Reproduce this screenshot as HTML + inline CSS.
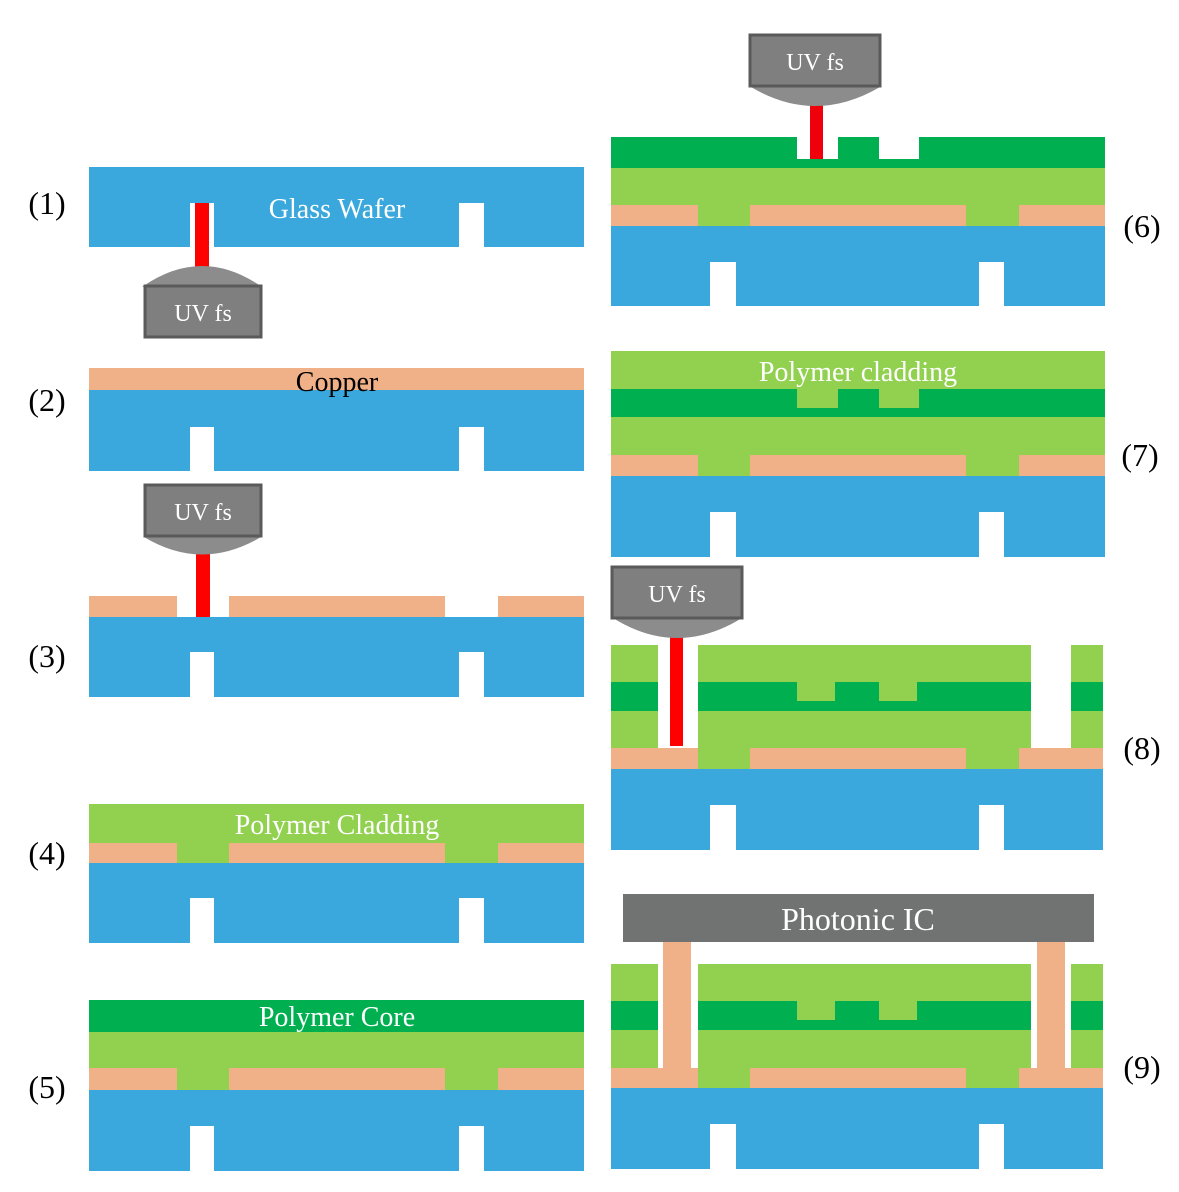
<!DOCTYPE html>
<html><head><meta charset="utf-8"><style>
html,body{margin:0;padding:0;background:#fff}
svg{display:block}
text{font-family:"Liberation Serif",serif}
</style></head><body>
<svg width="1179" height="1192" viewBox="0 0 1179 1192">
<defs>
<g id="dummy"></g>
</defs>
<g fill="#000" font-size="32">
<text x="47" y="214" text-anchor="middle">(1)</text>
<text x="47" y="411" text-anchor="middle">(2)</text>
<text x="47" y="667" text-anchor="middle">(3)</text>
<text x="47" y="864" text-anchor="middle">(4)</text>
<text x="47" y="1098" text-anchor="middle">(5)</text>
<text x="1142" y="237" text-anchor="middle">(6)</text>
<text x="1140" y="466" text-anchor="middle">(7)</text>
<text x="1142" y="759" text-anchor="middle">(8)</text>
<text x="1142" y="1078" text-anchor="middle">(9)</text>
</g>

<!-- Step 1 -->
<g>
<rect x="89" y="167" width="495" height="80" fill="#3aa8dc"/>
<rect x="459" y="203" width="25" height="44" fill="#fff"/>
<rect x="190" y="203" width="24" height="44" fill="#fff"/>
<rect x="195" y="203" width="14" height="66" fill="#f00"/>
<path d="M142 287 Q202 245 262 287 Z" fill="#8c8c8c"/>
<rect x="145" y="286" width="116" height="51" fill="#7f7f7f" stroke="#5a5a5a" stroke-width="3"/>
<text x="203" y="321" fill="#fff" font-size="24" text-anchor="middle">UV fs</text>
<text x="337" y="218" fill="#fff" font-size="28" text-anchor="middle">Glass Wafer</text>
</g>

<!-- Step 2 -->
<g>
<rect x="89" y="368" width="495" height="22" fill="#f0b088"/>
<rect x="89" y="390" width="495" height="81" fill="#3aa8dc"/>
<rect x="190" y="427" width="24" height="44" fill="#fff"/>
<rect x="459" y="427" width="25" height="44" fill="#fff"/>
<text x="337" y="391" fill="#000" font-size="28" text-anchor="middle">Copper</text>
</g>

<!-- Step 3 -->
<g>
<rect x="89" y="596" width="88" height="21" fill="#f0b088"/>
<rect x="229" y="596" width="216" height="21" fill="#f0b088"/>
<rect x="498" y="596" width="86" height="21" fill="#f0b088"/>
<rect x="89" y="617" width="495" height="80" fill="#3aa8dc"/>
<rect x="190" y="652" width="24" height="45" fill="#fff"/>
<rect x="459" y="652" width="25" height="45" fill="#fff"/>
<rect x="196" y="548" width="14" height="69" fill="#f00"/>
<path d="M144 537 Q202 572 261 537 Z" fill="#8c8c8c"/>
<rect x="145" y="485" width="116" height="51" fill="#7f7f7f" stroke="#5a5a5a" stroke-width="3"/>
<text x="203" y="520" fill="#fff" font-size="24" text-anchor="middle">UV fs</text>
</g>

<!-- Step 4 -->
<g>
<rect x="89" y="804" width="495" height="59" fill="#92d050"/>
<rect x="89" y="843" width="88" height="20" fill="#f0b088"/>
<rect x="229" y="843" width="216" height="20" fill="#f0b088"/>
<rect x="498" y="843" width="86" height="20" fill="#f0b088"/>
<rect x="89" y="863" width="495" height="80" fill="#3aa8dc"/>
<rect x="190" y="898" width="24" height="45" fill="#fff"/>
<rect x="459" y="898" width="25" height="45" fill="#fff"/>
<text x="337" y="834" fill="#fff" font-size="28" text-anchor="middle">Polymer Cladding</text>
</g>

<!-- Step 5 -->
<g>
<rect x="89" y="1000" width="495" height="32" fill="#00b050"/>
<rect x="89" y="1032" width="495" height="58" fill="#92d050"/>
<rect x="89" y="1068" width="88" height="22" fill="#f0b088"/>
<rect x="229" y="1068" width="216" height="22" fill="#f0b088"/>
<rect x="498" y="1068" width="86" height="22" fill="#f0b088"/>
<rect x="89" y="1090" width="495" height="81" fill="#3aa8dc"/>
<rect x="190" y="1126" width="24" height="45" fill="#fff"/>
<rect x="459" y="1126" width="25" height="45" fill="#fff"/>
<text x="337" y="1026" fill="#fff" font-size="28" text-anchor="middle">Polymer Core</text>
</g>

<!-- Step 6 -->
<g>
<rect x="611" y="137" width="494" height="31" fill="#00b050"/>
<rect x="797" y="137" width="41" height="22" fill="#fff"/>
<rect x="879" y="137" width="40" height="22" fill="#fff"/>
<rect x="611" y="168" width="494" height="58" fill="#92d050"/>
<rect x="611" y="205" width="87" height="21" fill="#f0b088"/>
<rect x="750" y="205" width="216" height="21" fill="#f0b088"/>
<rect x="1019" y="205" width="86" height="21" fill="#f0b088"/>
<rect x="611" y="226" width="494" height="80" fill="#3aa8dc"/>
<rect x="710" y="262" width="26" height="44" fill="#fff"/>
<rect x="979" y="262" width="25" height="44" fill="#fff"/>
<rect x="810" y="103" width="13" height="56" fill="#f0000a"/>
<path d="M751 87 Q815 125 880 87 Z" fill="#8c8c8c"/>
<rect x="750" y="35" width="130" height="51" fill="#7f7f7f" stroke="#5a5a5a" stroke-width="3"/>
<text x="815" y="70" fill="#fff" font-size="24" text-anchor="middle">UV fs</text>
</g>

<!-- Step 7 -->
<g>
<rect x="611" y="351" width="494" height="125" fill="#92d050"/>
<rect x="611" y="389" width="494" height="28" fill="#00b050"/>
<rect x="797" y="389" width="41" height="19" fill="#92d050"/>
<rect x="879" y="389" width="40" height="19" fill="#92d050"/>
<rect x="611" y="455" width="87" height="21" fill="#f0b088"/>
<rect x="750" y="455" width="216" height="21" fill="#f0b088"/>
<rect x="1019" y="455" width="86" height="21" fill="#f0b088"/>
<rect x="611" y="476" width="494" height="81" fill="#3aa8dc"/>
<rect x="710" y="512" width="26" height="45" fill="#fff"/>
<rect x="979" y="512" width="25" height="45" fill="#fff"/>
<text x="858" y="381" fill="#fff" font-size="28" text-anchor="middle">Polymer cladding</text>
</g>

<!-- Step 8 -->
<g>
<rect x="611" y="645" width="492" height="103" fill="#92d050"/>
<rect x="611" y="682" width="492" height="29" fill="#00b050"/>
<rect x="797" y="682" width="38" height="19" fill="#92d050"/>
<rect x="879" y="682" width="38" height="19" fill="#92d050"/>
<rect x="658" y="645" width="40" height="103" fill="#fff"/>
<rect x="1031" y="645" width="40" height="103" fill="#fff"/>
<rect x="611" y="748" width="492" height="21" fill="#92d050"/>
<rect x="611" y="748" width="87" height="21" fill="#f0b088"/>
<rect x="750" y="748" width="216" height="21" fill="#f0b088"/>
<rect x="1019" y="748" width="84" height="21" fill="#f0b088"/>
<rect x="611" y="769" width="492" height="81" fill="#3aa8dc"/>
<rect x="710" y="805" width="26" height="45" fill="#fff"/>
<rect x="979" y="805" width="25" height="45" fill="#fff"/>
<rect x="670" y="634" width="13" height="112" fill="#f00"/>
<path d="M613 618 Q677 658 742 618 Z" fill="#8c8c8c"/>
<rect x="612" y="567" width="130" height="51" fill="#7f7f7f" stroke="#5a5a5a" stroke-width="3"/>
<text x="677" y="602" fill="#fff" font-size="24" text-anchor="middle">UV fs</text>
</g>

<!-- Step 9 -->
<g>
<rect x="611" y="964" width="492" height="104" fill="#92d050"/>
<rect x="611" y="1001" width="492" height="29" fill="#00b050"/>
<rect x="797" y="1001" width="38" height="19" fill="#92d050"/>
<rect x="879" y="1001" width="38" height="19" fill="#92d050"/>
<rect x="658" y="964" width="40" height="104" fill="#fff"/>
<rect x="1031" y="964" width="40" height="104" fill="#fff"/>
<rect x="611" y="1068" width="492" height="20" fill="#92d050"/>
<rect x="611" y="1068" width="87" height="20" fill="#f0b088"/>
<rect x="750" y="1068" width="216" height="20" fill="#f0b088"/>
<rect x="1019" y="1068" width="84" height="20" fill="#f0b088"/>
<rect x="611" y="1088" width="492" height="81" fill="#3aa8dc"/>
<rect x="710" y="1124" width="26" height="45" fill="#fff"/>
<rect x="979" y="1124" width="25" height="45" fill="#fff"/>
<rect x="663" y="940" width="28" height="130" fill="#f0b088"/>
<rect x="1037" y="940" width="28" height="130" fill="#f0b088"/>
<rect x="623" y="894" width="471" height="48" fill="#707372"/>
<text x="858" y="930" fill="#fff" font-size="32" text-anchor="middle">Photonic IC</text>
</g>
</svg>
</body></html>
